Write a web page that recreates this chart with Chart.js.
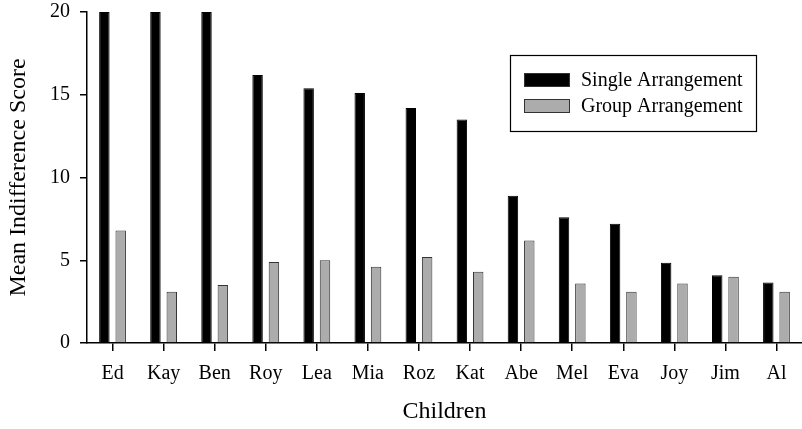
<!DOCTYPE html>
<html>
<head>
<meta charset="utf-8">
<script src="https://cdn.jsdelivr.net/npm/chart.js@4.4.0/dist/chart.umd.min.js"></script>
<style>
  body { margin: 0; background: #fff; }
  #wrap { width: 802px; height: 429px; }
</style>
</head>
<body>
<div id="wrap"><canvas id="myChart" width="802" height="429"></canvas></div>
<script>
"use strict";

// data
const children = ["Ed", "Kay", "Ben", "Roy", "Lea", "Mia", "Roz", "Kat", "Abe", "Mel", "Eva", "Joy", "Jim", "Al"];
const singleArrangement = [20, 20, 20, 16.2, 15.4, 15.1, 14.2, 13.5, 8.9, 7.6, 7.2, 4.85, 4.1, 3.65];
const groupArrangement = [6.8, 3.1, 3.5, 4.9, 5.0, 4.6, 5.2, 4.3, 6.2, 3.6, 3.1, 3.6, 4.0, 3.1];
const yTicks = [0, 5, 10, 15, 20];

const serif = "'Liberation Serif', 'Times New Roman', serif";

// legend drawn inside the plot with a box round it
const boxLegend = {
    id: "boxLegend",
    afterDraw(chart) {
        let ctx = chart.ctx;
        ctx.save();
        ctx.strokeStyle = "#000";
        ctx.lineWidth = 1.2;
        ctx.strokeRect(510.5, 55.5, 246, 76);
        ctx.font = "20px " + serif;
        ctx.textBaseline = "middle";
        ctx.textAlign = "left";
        let rows = [80, 106];
        chart.data.datasets.forEach(function (ds, i) {
            let y = rows[i];
            ctx.fillStyle = ds.backgroundColor;
            ctx.fillRect(524, y - 7, 46, 14);
            ctx.strokeStyle = "#333";
            ctx.lineWidth = 1;
            ctx.strokeRect(524.5, y - 6.5, 45, 13);
            ctx.fillStyle = "#000";
            ctx.fillText(ds.label, 581, y + 1);
        });
        ctx.restore();
    }
};

let myChart = new Chart(document.getElementById("myChart"), {
    type: "bar",
    data: {
        labels: children,
        datasets: [
            {
                label: "Single Arrangement",
                data: singleArrangement,
                backgroundColor: "#000000",
                borderColor: "#000000",
                borderWidth: 1
            },
            {
                label: "Group Arrangement",
                data: groupArrangement,
                backgroundColor: "#acacac",
                borderColor: "#333333",
                borderWidth: 1
            }
        ]
    },
    options: {
        responsive: false,
        animation: false,
        layout: { padding: { top: 12, right: 0, bottom: 0, left: 0 } },
        datasets: {
            bar: { categoryPercentage: 0.64, barPercentage: 0.64 }
        },
        plugins: {
            legend: { display: false },
            tooltip: { enabled: false }
        },
        scales: {
            x: {
                offset: true,
                grid: {
                    offset: false,
                    drawOnChartArea: false,
                    drawTicks: true,
                    tickLength: 8,
                    color: "#000",
                    lineWidth: 1.5
                },
                border: { display: true, color: "#000", width: 1.5 },
                ticks: {
                    color: "#000",
                    padding: 11,
                    maxRotation: 0,
                    autoSkip: false,
                    font: { family: serif, size: 20 }
                },
                title: {
                    display: true,
                    text: "Children",
                    color: "#000",
                    padding: { top: 0, bottom: 3 },
                    font: { family: serif, size: 24 }
                },
                afterFit: function (scale) { scale.height = 86; }
            },
            y: {
                min: 0,
                max: 20,
                afterBuildTicks: function (scale) {
                    scale.ticks = yTicks.map(function (v) { return { value: v }; });
                },
                grid: {
                    drawOnChartArea: false,
                    drawTicks: true,
                    tickLength: 7,
                    color: "#000",
                    lineWidth: 1.5
                },
                border: { display: true, color: "#000", width: 1.5 },
                ticks: {
                    color: "#000",
                    padding: 10,
                    font: { family: serif, size: 20 }
                },
                title: {
                    display: true,
                    text: "Mean Indifference Score",
                    color: "#000",
                    padding: { top: 4, bottom: 0 },
                    font: { family: serif, size: 24 }
                },
                afterFit: function (scale) {
                    scale.width = 87;
                    scale.paddingTop = 0;
                    scale.paddingBottom = 0;
                }
            }
        }
    },
    plugins: [boxLegend]
});
</script>
</body>
</html>
